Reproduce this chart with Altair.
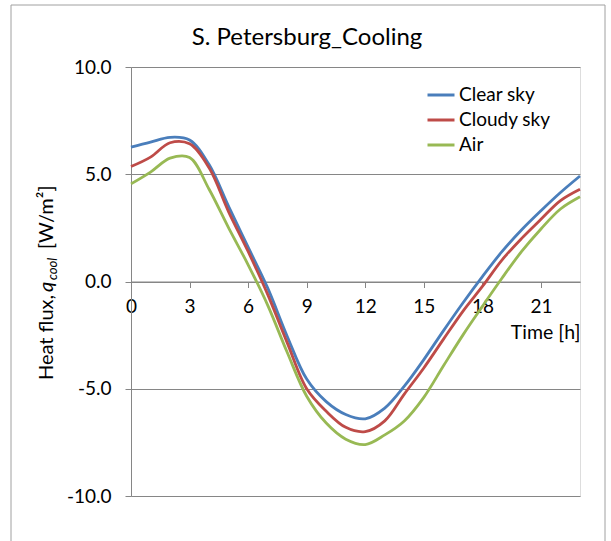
import altair as alt
import pandas as pd

# ---- data ----
hours = list(range(24))
clear_sky = [6.26, 6.5, 6.72, 6.6, 5.45, 3.5, 1.6, -0.3, -2.55, -4.55, -5.6, -6.2,
             -6.4, -5.9, -4.88, -3.64, -2.3, -1.0, 0.23, 1.39, 2.4, 3.3, 4.15, 4.92]
cloudy_sky = [5.36, 5.8, 6.47, 6.42, 5.3, 3.25, 1.4, -0.6, -2.85, -5.0, -6.05, -6.8,
              -7.0, -6.5, -5.25, -4.03, -2.7, -1.39, -0.23, 1.0, 2.0, 2.9, 3.77, 4.3]
air = [4.55, 5.1, 5.75, 5.78, 4.3, 2.5, 0.78, -1.1, -3.3, -5.35, -6.6, -7.35,
       -7.6, -7.15, -6.5, -5.4, -3.94, -2.5, -1.16, 0.15, 1.39, 2.45, 3.38, 3.95]

series_names = ["Clear sky", "Cloudy sky", "Air"]
series_colors = ["#4A7EBB", "#BE4B48", "#98B954"]
x_ticks = [0, 3, 6, 9, 12, 15, 18, 21]
y_ticks = [-10, -5, 0, 5, 10]
title_text = "S. Petersburg_Cooling"
x_title = "Time [h]"

rows = []
for name, vals in zip(series_names, [clear_sky, cloudy_sky, air]):
    for h, v in zip(hours, vals):
        rows.append({"Time": h, "Series": name, "Value": v})
df = pd.DataFrame(rows)

W, H = 449, 429
FONT = "Lato"
GRAY = "#868686"

lines = alt.Chart(df).mark_line(strokeWidth=2.8, interpolate="catmull-rom").encode(
    x=alt.X("Time:Q", scale=alt.Scale(domain=[0, 23], nice=False),
            axis=alt.Axis(values=x_ticks, grid=False, offset=-H / 2, tickSize=6,
                          domainColor=GRAY, tickColor=GRAY, labelFont=FONT,
                          labelFontSize=19, labelColor="#000", labelPadding=19,
                          labelBaseline="middle", labelFlush=False,
                          title=x_title, titleFont=FONT, titleFontSize=19.5,
                          titleFontWeight="normal", titleColor="#000",
                          titleAnchor="end", titleAlign="right", titleBaseline="middle",
                          titleX=W, titleY=51)),
    y=alt.Y("Value:Q", scale=alt.Scale(domain=[-10, 10], nice=False),
            axis=alt.Axis(values=y_ticks, grid=True, gridColor=GRAY, tickSize=6,
                          domainColor=GRAY, tickColor=GRAY, labelFont=FONT,
                          labelFontSize=19, labelColor="#000", labelPadding=14,
                          labelExpr="datum.value < 0 ? '-' + format(abs(datum.value), '.1f') : format(datum.value, '.1f')",
                          title=None)),
    color=alt.Color("Series:N",
                    scale=alt.Scale(domain=series_names, range=series_colors),
                    legend=alt.Legend(orient="none", legendX=295, legendY=13, title=None,
                                      symbolType="stroke", symbolSize=729,
                                      symbolStrokeWidth=3, labelFont=FONT,
                                      labelFontSize=19, labelColor="#000",
                                      rowPadding=-4, labelOffset=3, padding=0)),
    order=alt.Order("order:Q"),
).transform_calculate(order="indexof(['Clear sky','Cloudy sky','Air'], datum.Series)")

one = pd.DataFrame({"k": [0]})

frame = alt.Chart(one).mark_rect(fillOpacity=0, stroke="#a0a0a0", strokeWidth=1).encode(
    x=alt.value(-120), x2=alt.value(474), y=alt.value(-62), y2=alt.value(490))

title = alt.Chart(one).mark_text(font=FONT, fontSize=24, align="center",
                                  baseline="alphabetic", color="#000").encode(
    x=alt.value(176), y=alt.value(-22), text=alt.value(title_text))

ytitle_parts = [
    ("Heat flux,", "normal", 20, -78.5, 313),
    ("q", "italic", 20, -78.5, 225),
    ("cool", "italic", 13, -74, 213),
    ("[W/m²]", "normal", 20, -78.5, 182),
]
ytitle_layers = []
for txt, style, size, px, py in ytitle_parts:
    ytitle_layers.append(
        alt.Chart(one).mark_text(font=FONT, fontSize=size, fontStyle=style, angle=270,
                                 align="left", baseline="alphabetic", color="#000").encode(
            x=alt.value(px), y=alt.value(py), text=alt.value(txt)))

chart = alt.layer(frame, lines, title, *ytitle_layers).properties(
    width=W, height=H,
    autosize=alt.AutoSizeParams(type="none"),
    padding={"left": 131, "top": 67, "right": 31, "bottom": 45},
).configure_view(stroke=None).configure(background="white")

chart.save("out.html", embed_options={"renderer": "svg", "actions": False})
